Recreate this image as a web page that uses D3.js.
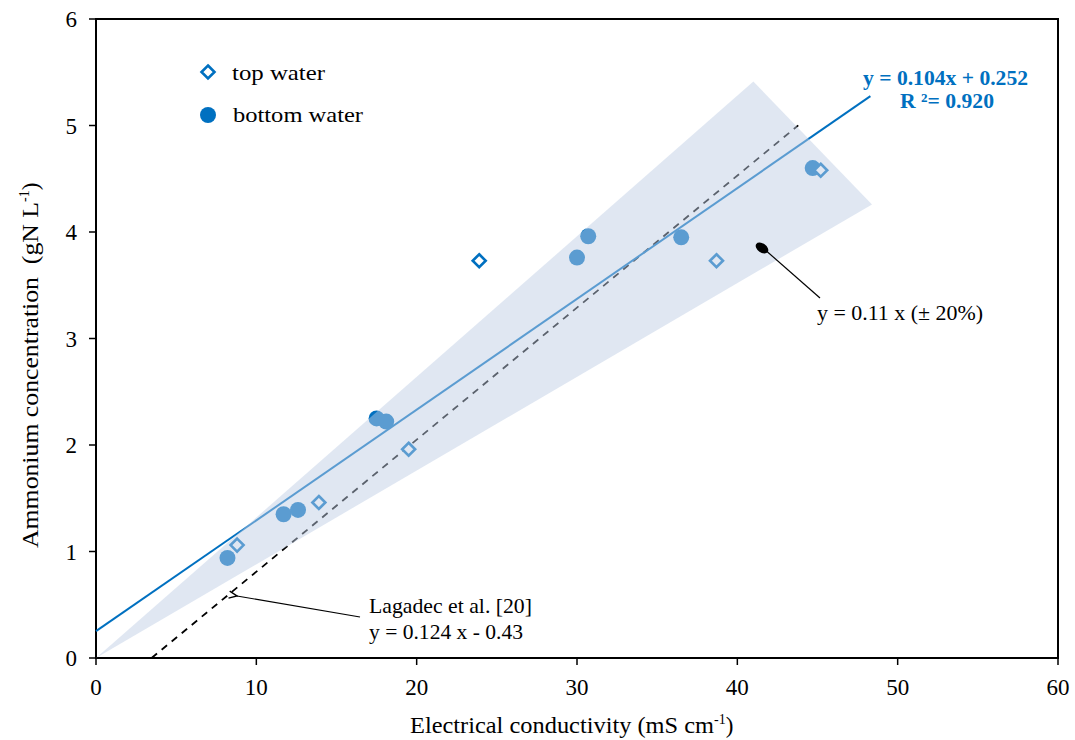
<!DOCTYPE html>
<html>
<head>
<meta charset="utf-8">
<script src="https://cdn.jsdelivr.net/npm/d3@7"></script>
<style>
  body { margin: 0; background: #fff; }
  text { font-family: "Liberation Serif", "Times New Roman", serif; }
</style>
</head>
<body>
<svg id="chart" width="1075" height="740"></svg>
<script>
// data
var topWaterEC = [8.8, 13.9, 19.5, 23.9, 38.7, 45.2];
var topWaterNH4 = [1.06, 1.46, 1.96, 3.73, 3.73, 4.58];
var bottomWaterEC = [8.2, 11.7, 12.6, 17.5, 18.1, 30.0, 30.7, 36.5, 44.7];
var bottomWaterNH4 = [0.94, 1.35, 1.39, 2.25, 2.22, 3.76, 3.96, 3.95, 4.60];
var fitLine = [[0, 0.252], [48.3, 0.104 * 48.3 + 0.252]];
var lagadecLine = [[0.43 / 0.124, 0], [43.8, 0.124 * 43.8 - 0.43]];
var bandPoly = [[0, 0], [41, 0.132 * 41], [48.4, 0.088 * 48.4]];
var xTicks = [0, 10, 20, 30, 40, 50, 60];
var yTicks = [0, 1, 2, 3, 4, 5, 6];

var svg = d3.select('#chart');
var x = d3.scaleLinear().domain([0, 60]).range([96, 1058]);
var y = d3.scaleLinear().domain([0, 6]).range([658, 19]);
var blue = '#0070C0';

var line = d3.line()
  .x(function(d) { return x(d[0]); })
  .y(function(d) { return y(d[1]); });

// helper: text squeezed/stretched to a given length
function label(px, py, len, size, str) {
  return svg.append('text')
    .attr('x', px).attr('y', py)
    .attr('font-size', size)
    .attr('textLength', len).attr('lengthAdjust', 'spacingAndGlyphs')
    .text(str);
}

// frame
svg.append('rect')
  .attr('x', x(0)).attr('y', y(6))
  .attr('width', x(60) - x(0)).attr('height', y(0) - y(6))
  .attr('fill', 'none').attr('stroke', '#000').attr('stroke-width', 2);

// lines
svg.append('path').datum(lagadecLine)
  .attr('d', line).attr('fill', 'none')
  .attr('stroke', '#000').attr('stroke-width', 1.8)
  .attr('stroke-dasharray', '7,6');

svg.append('path').datum(fitLine)
  .attr('d', line).attr('fill', 'none')
  .attr('stroke', blue).attr('stroke-width', 2);

// points
var topPts = topWaterEC.map(function(v, i) { return [v, topWaterNH4[i]]; });
var botPts = bottomWaterEC.map(function(v, i) { return [v, bottomWaterNH4[i]]; });

svg.selectAll('.bottom').data(botPts).enter()
  .append('circle').attr('class', 'bottom')
  .attr('cx', function(d) { return x(d[0]); })
  .attr('cy', function(d) { return y(d[1]); })
  .attr('r', 8).attr('fill', blue);

var diamond = 'M0,-6.5L6.5,0L0,6.5L-6.5,0Z';
svg.selectAll('.top').data(topPts).enter()
  .append('path').attr('class', 'top')
  .attr('transform', function(d) { return 'translate(' + x(d[0]) + ',' + y(d[1]) + ')'; })
  .attr('d', diamond)
  .attr('fill', '#fff').attr('stroke', blue).attr('stroke-width', 2.6);

// +-20% band drawn over everything, semi-transparent
svg.append('path').datum(bandPoly)
  .attr('d', function(d) { return line(d) + 'Z'; })
  .attr('fill', 'rgb(190,204,228)').attr('fill-opacity', 0.48);

// axes ticks
svg.selectAll('.xt').data(xTicks).enter()
  .append('line')
  .attr('x1', function(d) { return x(d); }).attr('x2', function(d) { return x(d); })
  .attr('y1', y(0)).attr('y2', y(0) + 7)
  .attr('stroke', '#000').attr('stroke-width', 1.5);
svg.selectAll('.xl').data(xTicks).enter()
  .append('text')
  .attr('x', function(d) { return x(d); }).attr('y', 695)
  .attr('text-anchor', 'middle').attr('font-size', 23)
  .text(function(d) { return d; });

svg.selectAll('.yt').data(yTicks).enter()
  .append('line')
  .attr('x1', x(0) - 7).attr('x2', x(0))
  .attr('y1', function(d) { return y(d); }).attr('y2', function(d) { return y(d); })
  .attr('stroke', '#000').attr('stroke-width', 1.5);
svg.selectAll('.yl').data(yTicks).enter()
  .append('text')
  .attr('x', 77).attr('y', function(d) { return y(d) + 8; })
  .attr('text-anchor', 'end').attr('font-size', 23)
  .text(function(d) { return d; });

// axis titles
var xt = svg.append('text')
  .attr('x', 410).attr('y', 733).attr('font-size', 23);
xt.append('tspan').attr('textLength', 304).attr('lengthAdjust', 'spacingAndGlyphs')
  .text('Electrical conductivity (mS cm');
xt.append('tspan').attr('font-size', 14).attr('dy', -9).text('-1');
xt.append('tspan').attr('dy', 9).text(')');

var yt = svg.append('text')
  .attr('transform', 'translate(38,548) rotate(-90)')
  .attr('font-size', 23);
yt.append('tspan').attr('textLength', 346).attr('lengthAdjust', 'spacingAndGlyphs')
  .text('Ammonium concentration\u00a0 (gN L');
yt.append('tspan').attr('font-size', 14).attr('dy', -9).text('-1');
yt.append('tspan').attr('dy', 9).text(')');

// legend
svg.append('path').attr('d', diamond)
  .attr('transform', 'translate(208,72)')
  .attr('fill', '#fff').attr('stroke', blue).attr('stroke-width', 2.6);
label(232, 80, 93, 22, 'top water');
svg.append('circle').attr('cx', 208).attr('cy', 115).attr('r', 8).attr('fill', blue);
label(233, 122, 130, 22, 'bottom water');

// regression equation
label(863, 85, 165, 21, 'y = 0.104x + 0.252')
  .attr('font-weight', 'bold').attr('fill', blue);
label(900, 108, 94, 21, 'R \u00b2= 0.920')
  .attr('font-weight', 'bold').attr('fill', blue);

// band annotation
svg.append('line')
  .attr('x1', 820).attr('y1', 298).attr('x2', 763).attr('y2', 248)
  .attr('stroke', '#000').attr('stroke-width', 1.2);
svg.append('ellipse')
  .attr('cx', 762).attr('cy', 248).attr('rx', 7).attr('ry', 4.5)
  .attr('transform', 'rotate(35,762,248)').attr('fill', '#000');
label(817, 320, 166, 21, 'y = 0.11 x (\u00b1 20%)');

// Lagadec annotation
svg.append('defs').append('marker')
  .attr('id', 'arr').attr('viewBox', '0 0 10 10')
  .attr('refX', 1).attr('refY', 5)
  .attr('markerWidth', 10).attr('markerHeight', 10)
  .attr('markerUnits', 'userSpaceOnUse')
  .attr('orient', 'auto-start-reverse')
  .append('path').attr('d', 'M9,1.5L1,5L9,8.5')
  .attr('fill', 'none').attr('stroke', '#000').attr('stroke-width', 1.4);
svg.append('line')
  .attr('x1', 237).attr('y1', 596).attr('x2', 360).attr('y2', 617)
  .attr('stroke', '#000').attr('stroke-width', 1.2)
  .attr('marker-start', 'url(#arr)');
label(369, 613, 163, 21, 'Lagadec et al. [20]');
label(369, 639, 154, 21, 'y = 0.124 x - 0.43');
</script>
</body>
</html>
